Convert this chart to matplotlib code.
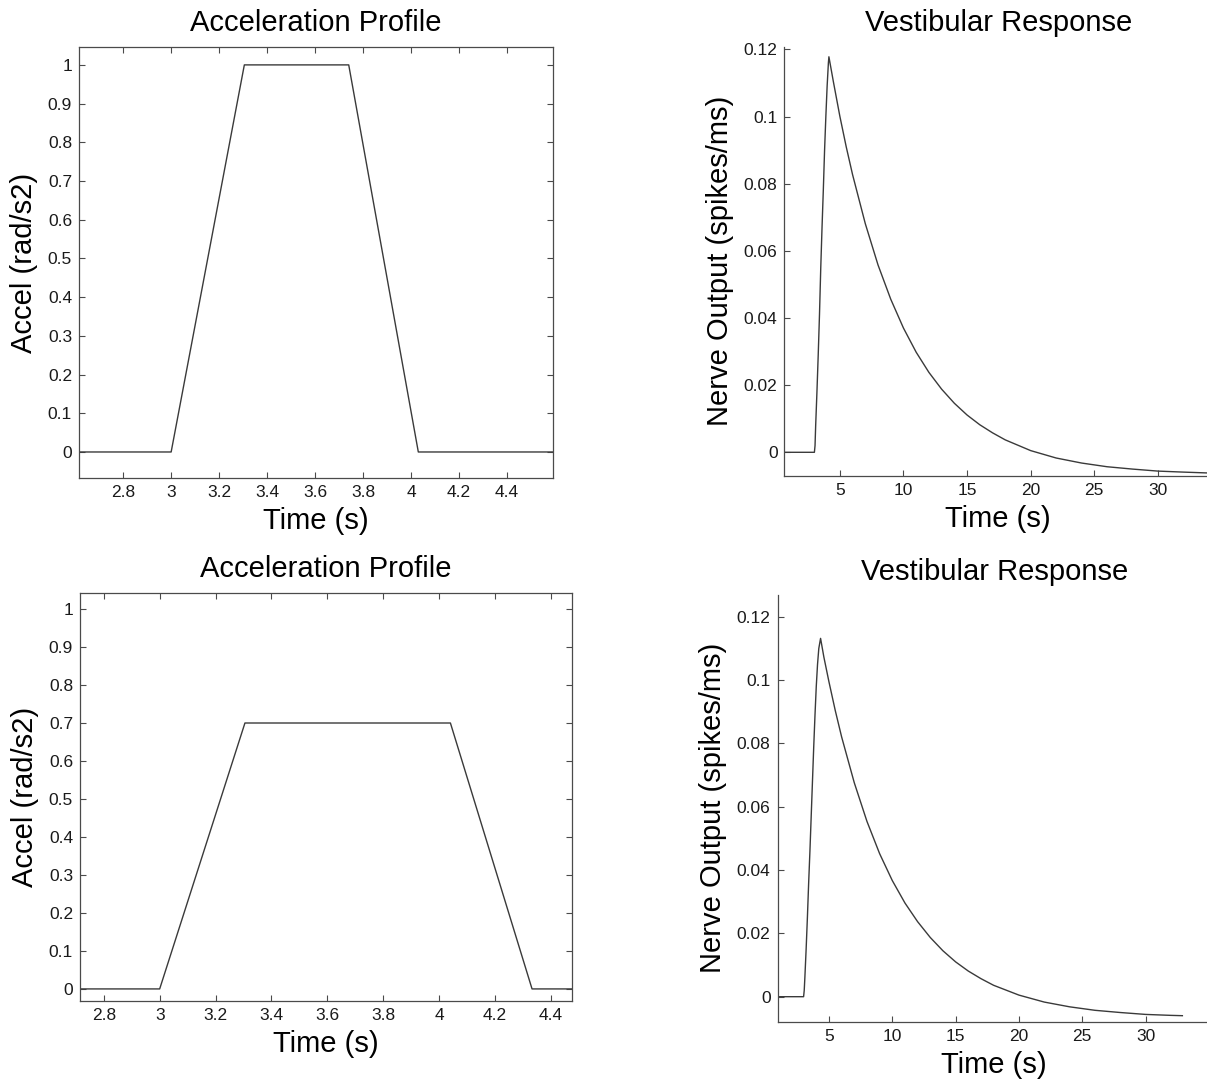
import matplotlib
matplotlib.use("Agg")
import matplotlib.pyplot as plt

plt.rcParams['font.family'] = ['Liberation Sans', 'DejaVu Sans']

# acceleration profiles (trapezoids)
accel1_t = [2.616, 3.0, 3.305, 3.74, 4.03, 4.59]
accel1_a = [0, 0, 1.0, 1.0, 0, 0]
accel2_t = [2.715, 3.0, 3.305, 4.04, 4.332, 4.476]
accel2_a = [0, 0, 0.7, 0.7, 0, 0]

# vestibular nerve responses
resp1_t = [0.65, 3.0, 3.05, 3.1, 3.2, 3.3, 3.4, 3.5, 3.6, 3.7, 3.8, 3.9, 4.0, 4.1, 4.14,
           4.5, 5, 5.5, 6, 7, 8, 9, 10, 11, 12, 13, 14, 15, 16, 17, 18, 20, 22, 24,
           26, 28, 30, 32, 34.25]
resp1_v = [0, 0, 0.002, 0.008, 0.018, 0.029, 0.041, 0.055, 0.067, 0.078, 0.090, 0.100,
           0.109, 0.116, 0.1178, 0.1102, 0.1001, 0.0910, 0.0827, 0.0681, 0.0558, 0.0456,
           0.0370, 0.0298, 0.0238, 0.0188, 0.0146, 0.0111, 0.0082, 0.0058, 0.0037, 0.0005,
           -0.0017, -0.0032, -0.0043, -0.0050, -0.0056, -0.0059, -0.0062]
resp2_t = [0.94, 3.0, 3.05, 3.1, 3.2, 3.3, 3.4, 3.5, 3.6, 3.7, 3.8, 3.9, 4.0, 4.1, 4.2, 4.34,
           4.6, 5, 5.5, 6, 7, 8, 9, 10, 11, 12, 13, 14, 15, 16, 17, 18, 20, 22, 24,
           26, 28, 30, 32, 32.9]
resp2_v = [0, 0, 0.002, 0.006, 0.015, 0.025, 0.036, 0.046, 0.057, 0.068, 0.079, 0.089,
           0.098, 0.105, 0.110, 0.1132, 0.1073, 0.0995, 0.0904, 0.0821, 0.0676, 0.0554,
           0.0452, 0.0367, 0.0296, 0.0237, 0.0187, 0.0145, 0.0110, 0.0081, 0.0057, 0.0036,
           0.0005, -0.0017, -0.0032, -0.0043, -0.0050, -0.0056, -0.0059, -0.0060]

acc_xticks = [2.8, 3.0, 3.2, 3.4, 3.6, 3.8, 4.0, 4.2, 4.4]
acc_xlabels = ['2.8', '3', '3.2', '3.4', '3.6', '3.8', '4', '4.2', '4.4']
acc_yticks = [0, 0.1, 0.2, 0.3, 0.4, 0.5, 0.6, 0.7, 0.8, 0.9, 1.0]
acc_ylabels = ['0', '0.1', '0.2', '0.3', '0.4', '0.5', '0.6', '0.7', '0.8', '0.9', '1']
resp_xticks = [5, 10, 15, 20, 25, 30]
resp_xlabels = ['5', '10', '15', '20', '25', '30']
resp_yticks = [0, 0.02, 0.04, 0.06, 0.08, 0.10, 0.12]
resp_ylabels = ['0', '0.02', '0.04', '0.06', '0.08', '0.1', '0.12']

W, H = 1207, 1081
fig = plt.figure(figsize=(W / 100, H / 100), dpi=100)


def box(left, top, right, bottom):
    # pixel box -> figure fraction
    return [left / W, 1 - bottom / H, (right - left) / W, (bottom - top) / H]


LINE = '#3a3a3a'
SPINE = '#4a4a4a'
BIG = 21
SMALL = 12.5


def style(ax, full_box):
    for s in ax.spines.values():
        s.set_color(SPINE)
        s.set_linewidth(0.9)
    if not full_box:
        ax.spines['top'].set_visible(False)
        ax.spines['right'].set_visible(False)
    ax.tick_params(direction='in', length=4, width=0.8, color=SPINE,
                   labelsize=SMALL, labelcolor='#1a1a1a', pad=5,
                   top=full_box, right=full_box)


def accel_panel(pos, t, a, xlim, ylim):
    ax = fig.add_axes(box(*pos))
    ax.plot(t, a, color=LINE, lw=1.0)
    ax.set_xlim(*xlim)
    ax.set_ylim(*ylim)
    ax.set_xticks(acc_xticks, acc_xlabels)
    ax.set_yticks(acc_yticks, acc_ylabels)
    style(ax, True)
    ax.set_title('Acceleration Profile', fontsize=BIG, pad=11)
    ax.set_xlabel('Time (s)', fontsize=BIG, labelpad=5)
    ax.set_ylabel('Accel (rad/s2)', fontsize=BIG, labelpad=7)
    return ax


def resp_panel(pos, t, v, xlim, ylim):
    ax = fig.add_axes(box(*pos))
    ax.plot(t, v, color=LINE, lw=1.0)
    ax.set_xlim(*xlim)
    ax.set_ylim(*ylim)
    ax.set_xticks(resp_xticks, resp_xlabels)
    ax.set_yticks(resp_yticks, resp_ylabels)
    style(ax, False)
    ax.set_title('Vestibular Response', fontsize=BIG, pad=11)
    ax.set_xlabel('Time (s)', fontsize=BIG, labelpad=5)
    ax.set_ylabel('Nerve Output (spikes/ms)', fontsize=BIG, labelpad=7)
    return ax


accel_panel((79, 46.7, 552.7, 478.3), accel1_t, accel1_a, (2.616, 4.59), (-0.068, 1.047))
accel_panel((80, 592.7, 572.3, 1000.7), accel2_t, accel2_a, (2.715, 4.476), (-0.031, 1.043))
resp_panel((784.5, 46.7, 1212, 476), resp1_t, resp1_v, (0.65, 34.25), (-0.00706, 0.1208))
resp_panel((777.5, 595, 1211, 1021.7), resp2_t, resp2_v, (0.94, 35.16), (-0.0079, 0.1269))

fig.savefig('out.png', dpi=100)
